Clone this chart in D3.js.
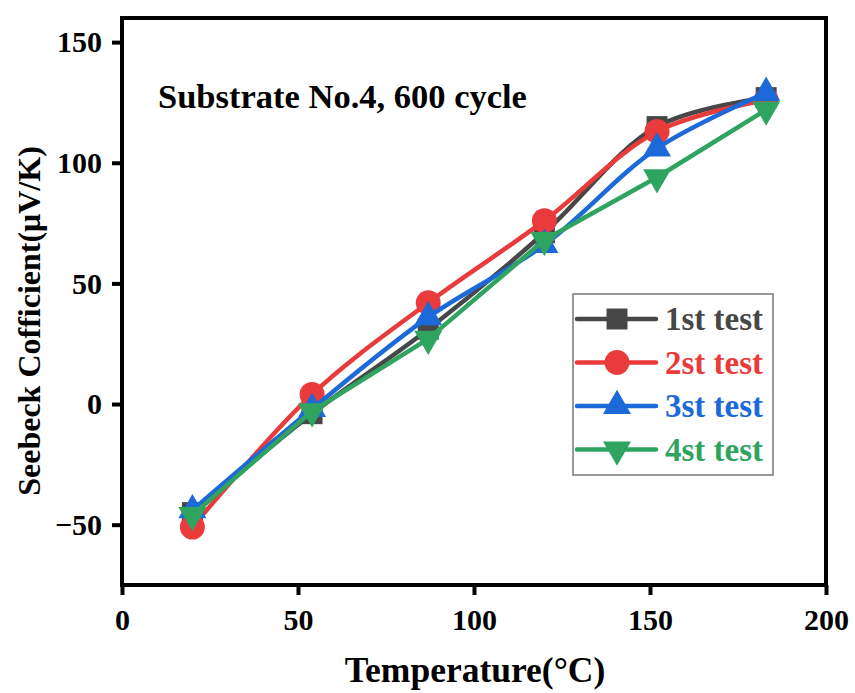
<!DOCTYPE html>
<html>
<head>
<meta charset="utf-8">
<script src="https://cdn.jsdelivr.net/npm/d3@7"></script>
<style>
  body { margin: 0; background: #fff; }
  text { font-family: "Liberation Serif", "Times New Roman", serif; font-weight: bold; }
</style>
</head>
<body>
<svg id="chart" width="855" height="693"></svg>
<script>
// data
var temps = [20, 54, 87, 120, 152, 183];
var test1 = [-45, -4, 31, 71, 115, 127];
var test2 = [-51, 4, 42, 76, 113, 126];
var test3 = [-44, -2, 36, 66, 106, 129];
var test4 = [-46, -3, 27, 68, 94, 122];
var seriesNames = ["1st test", "2st test", "3st test", "4st test"];
var xTicks = [0, 50, 100, 150, 200];
var yTicks = [-50, 0, 50, 100, 150];

var colors = ["#474747", "#e93a3c", "#1c6ad9", "#2fa460"];
var symbols = [d3.symbolSquare, d3.symbolCircle, d3.symbolTriangle, d3.symbolTriangle];
var symSizes = [440, 490, 340, 340];
var rotations = [0, 0, 0, 180];
var curves = [d3.curveCatmullRom, d3.curveCatmullRom, d3.curveCatmullRom, d3.curveLinear];

var svg = d3.select("#chart");
var margin = { top: 18, right: 29, bottom: 108, left: 122 };
var width = 855, height = 693;

var x = d3.scaleLinear().domain([0, 200]).range([margin.left, width - margin.right]);
var y = d3.scaleLinear().domain([-75, 160]).range([height - margin.bottom, margin.top]);

// axes
var xAxis = d3.axisBottom(x).tickValues(xTicks).tickSize(10).tickPadding(14);
var yAxis = d3.axisLeft(y).tickValues(yTicks).tickSize(10).tickPadding(10)
    .tickFormat(function (d) { return d < 0 ? "\u2212" + Math.abs(d) : d; });

var gx = svg.append("g").attr("transform", "translate(0," + y.range()[0] + ")").call(xAxis);
var gy = svg.append("g").attr("transform", "translate(" + x.range()[0] + ",0)").call(yAxis);
[gx, gy].forEach(function (g) {
    g.select(".domain").remove();
    g.selectAll(".tick line").attr("stroke", "#000").attr("stroke-width", 4);
    g.selectAll(".tick text").attr("fill", "#000").style("font-size", "30px")
        .style("font-family", "Liberation Serif").style("font-weight", "bold");
});

// frame
svg.append("rect")
    .attr("x", x.range()[0]).attr("y", y.range()[1])
    .attr("width", x.range()[1] - x.range()[0])
    .attr("height", y.range()[0] - y.range()[1])
    .attr("fill", "none").attr("stroke", "#000").attr("stroke-width", 4);

// axis titles
svg.append("text")
    .attr("x", 475).attr("y", 682)
    .attr("text-anchor", "middle").style("font-size", "35.5px")
    .text("Temperature(\u00B0C)");

svg.append("text")
    .attr("transform", "translate(40," + 321 + ") rotate(-90)")
    .attr("text-anchor", "middle").style("font-size", "32px")
    .text("Seebeck Cofficient(\u03BCV/K)");

// annotation
svg.append("text")
    .attr("x", 158).attr("y", 108)
    .style("font-size", "34.5px")
    .text("Substrate No.4, 600 cycle");

// series
var allSeries = [test1, test2, test3, test4];
allSeries.forEach(function (vals, i) {
    var pts = temps.map(function (t, j) { return [t, vals[j]]; });
    var line = d3.line()
        .x(function (d) { return x(d[0]); })
        .y(function (d) { return y(d[1]); })
        .curve(curves[i]);
    var g = svg.append("g");
    g.append("path")
        .attr("d", line(pts))
        .attr("fill", "none")
        .attr("stroke", colors[i])
        .attr("stroke-width", 4.5)
        .attr("stroke-linejoin", "round");
    g.selectAll("path.m")
        .data(pts)
        .join("path")
        .attr("class", "m")
        .attr("d", d3.symbol().type(symbols[i]).size(symSizes[i]))
        .attr("transform", function (d) {
            return "translate(" + x(d[0]) + "," + y(d[1]) + ") rotate(" + rotations[i] + ")";
        })
        .attr("fill", colors[i]);
});

// legend
var legend = svg.append("g");
legend.append("rect")
    .attr("x", 573).attr("y", 294).attr("width", 200).attr("height", 181)
    .attr("fill", "#fff").attr("stroke", "#777").attr("stroke-width", 1.5);

seriesNames.forEach(function (name, i) {
    var ly = 319 + i * 43.5;
    legend.append("line")
        .attr("x1", 577).attr("x2", 656).attr("y1", ly).attr("y2", ly)
        .attr("stroke", colors[i]).attr("stroke-width", 4.5).attr("stroke-linecap", "round");
    legend.append("path")
        .attr("d", d3.symbol().type(symbols[i]).size(symSizes[i])())
        .attr("transform", "translate(617," + ly + ") rotate(" + rotations[i] + ")")
        .attr("fill", colors[i]);
    legend.append("text")
        .attr("x", 665).attr("y", ly + 11)
        .attr("fill", colors[i])
        .style("font-size", "33px")
        .text(name);
});
</script>
</body>
</html>
